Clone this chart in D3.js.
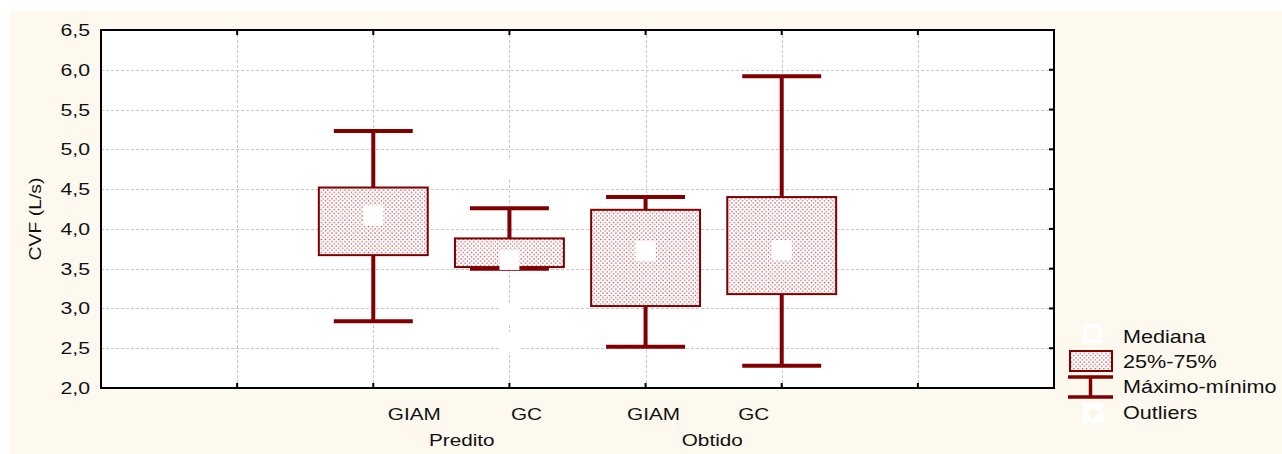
<!DOCTYPE html>
<html>
<head>
<meta charset="utf-8">
<script src="https://cdn.jsdelivr.net/npm/d3@7/dist/d3.min.js"></script>
<style>
  html, body { margin: 0; padding: 0; background: #ffffff; }
  svg { display: block; }
  text { font-family: "Liberation Sans", Arial, sans-serif; fill: #111; }
</style>
</head>
<body>
<svg id="chart" width="1282" height="454"></svg>
<script>
// ---------- data ----------
const groups     = ["Predito", "Predito", "Obtido", "Obtido"];
const categories = ["GIAM", "GC", "GIAM", "GC"];
const medians    = [4.17, 3.61, 3.72, 3.73];
const q1         = [3.67, 3.52, 3.03, 3.18];
const q3         = [4.52, 3.88, 4.24, 4.40];
const mins       = [2.84, 3.50, 2.52, 2.28];
const maxs       = [5.23, 4.26, 4.40, 5.92];
const outliers   = [[], [4.76, 2.94, 2.58], [], []];
const yTicks     = [2.0, 2.5, 3.0, 3.5, 4.0, 4.5, 5.0, 5.5, 6.0, 6.5];
const groupNames = ["Predito", "Obtido"];
const legendLabels = ["Mediana", "25%-75%", "Máximo-mínimo", "Outliers"];
const yTitle = "CVF (L/s)";

// ---------- layout ----------
const W = 1282, H = 454;
const plot = { left: 101, right: 1054, top: 30, bottom: 388 };
const dark = "#800000";
const cream = "#fdf9ef";

const svg = d3.select("#chart");
const defs = svg.append("defs");
const pat = defs.append("pattern")
  .attr("id", "dots").attr("patternUnits", "userSpaceOnUse")
  .attr("width", 4.3).attr("height", 4.3);
pat.append("rect").attr("width", 4.3).attr("height", 4.3).attr("fill", "#ffffff");
pat.append("rect").attr("x", 0.3).attr("y", 0.3).attr("width", 1.2).attr("height", 1.2).attr("fill", "#b03a44");
pat.append("rect").attr("x", 2.45).attr("y", 2.45).attr("width", 1.2).attr("height", 1.2).attr("fill", "#b03a44");

// background
svg.append("rect").attr("x", 10).attr("y", 11).attr("width", W - 10).attr("height", H - 11).attr("fill", cream);

const x = d3.scaleLinear().domain([0, 7]).range([plot.left, plot.right]);
const y = d3.scaleLinear().domain([2.0, 6.5]).range([plot.bottom, plot.top]);
const pos = i => x(i + 2);
const slot = x(1) - x(0);
const boxW = slot * 0.8;
const capW = slot * 0.58;

// plot area
svg.append("rect").attr("x", plot.left).attr("y", plot.top)
  .attr("width", plot.right - plot.left).attr("height", plot.bottom - plot.top)
  .attr("fill", "#ffffff");

// grid
const grid = svg.append("g").attr("stroke", "#c8c8c8").attr("stroke-width", 1).attr("stroke-dasharray", "3,2");
yTicks.slice(1, -1).forEach(v => {
  grid.append("line").attr("x1", plot.left).attr("x2", plot.right)
    .attr("y1", Math.round(y(v)) + 0.5).attr("y2", Math.round(y(v)) + 0.5);
});
d3.range(1, 7).forEach(v => {
  grid.append("line").attr("y1", plot.top).attr("y2", plot.bottom)
    .attr("x1", Math.round(x(v)) + 0.5).attr("x2", Math.round(x(v)) + 0.5);
});

// outliers (white markers)
outliers.forEach((arr, i) => {
  arr.forEach(v => {
    svg.append("rect").attr("x", pos(i) - 10).attr("y", y(v) - 10)
      .attr("width", 20).attr("height", 20).attr("fill", "#ffffff");
  });
});

// boxes
const boxes = svg.append("g");
categories.forEach((c, i) => {
  const cx = pos(i);
  // whiskers
  boxes.append("line").attr("x1", cx).attr("x2", cx).attr("y1", y(maxs[i])).attr("y2", y(q3[i]))
    .attr("stroke", dark).attr("stroke-width", 4);
  boxes.append("line").attr("x1", cx).attr("x2", cx).attr("y1", y(q1[i])).attr("y2", y(mins[i]))
    .attr("stroke", dark).attr("stroke-width", 4);
  // box
  boxes.append("rect").attr("x", cx - boxW / 2).attr("y", y(q3[i]))
    .attr("width", boxW).attr("height", y(q1[i]) - y(q3[i]))
    .attr("fill", "url(#dots)").attr("stroke", dark).attr("stroke-width", 2);
  // caps
  [maxs[i], mins[i]].forEach(v => {
    boxes.append("line").attr("x1", cx - capW / 2).attr("x2", cx + capW / 2)
      .attr("y1", y(v)).attr("y2", y(v)).attr("stroke", dark).attr("stroke-width", 4);
  });
});
// medians
categories.forEach((c, i) => {
  svg.append("rect").attr("x", pos(i) - 10).attr("y", y(medians[i]) - 10)
    .attr("width", 20).attr("height", 20).attr("fill", "#ffffff");
});

// frame
svg.append("rect").attr("x", plot.left).attr("y", plot.top)
  .attr("width", plot.right - plot.left).attr("height", plot.bottom - plot.top)
  .attr("fill", "none").attr("stroke", "#000").attr("stroke-width", 2);
const ticks = svg.append("g").attr("stroke", "#000").attr("stroke-width", 2);
yTicks.slice(1, -1).forEach(v => {
  ticks.append("line").attr("x1", plot.right - 5).attr("x2", plot.right).attr("y1", y(v)).attr("y2", y(v));
});
d3.range(1, 7).forEach(v => {
  ticks.append("line").attr("x1", x(v)).attr("x2", x(v)).attr("y1", plot.bottom).attr("y2", plot.bottom - 5);
  ticks.append("line").attr("x1", x(v)).attr("x2", x(v)).attr("y1", plot.top).attr("y2", plot.top + 5);
});

// stretched text helper
function txt(xp, yp, s, opts = {}) {
  const size = opts.size || 17, sx = opts.sx || 1.22;
  return svg.append("text")
    .attr("transform", `translate(${xp},${yp}) scale(${sx},1)` + (opts.rot ? ` rotate(${opts.rot})` : ""))
    .attr("text-anchor", opts.anchor || "start")
    .style("font-size", size + "px")
    .text(s);
}

const fmt = v => d3.format(".1f")(v).replace(".", ",");
yTicks.forEach(v => txt(90, y(v) + 6, fmt(v), { anchor: "end", sx: 1.25 }));

// category labels
const labelShift = [41, 17, 8, -28];
categories.forEach((c, i) => txt(pos(i) + labelShift[i], 420, c, { anchor: "middle" }));
// group labels
const groupAt = [2.65, 4.49];
groupNames.forEach((g, k) => txt(x(groupAt[k]), 446, g, { anchor: "middle" }));

// y title
svg.append("text")
  .attr("transform", `translate(41,${(plot.top + plot.bottom) / 2 + 10}) rotate(-90) scale(1.14,1)`)
  .attr("text-anchor", "middle")
  .style("font-size", "17px")
  .text(yTitle);

// legend
const lg = svg.append("g");
// median symbol
lg.append("rect").attr("x", 1085).attr("y", 326).attr("width", 15).attr("height", 15)
  .attr("fill", "none").attr("stroke", "#ffffff").attr("stroke-width", 4);
// box symbol
lg.append("rect").attr("x", 1070).attr("y", 351).attr("width", 42).attr("height", 20)
  .attr("fill", "url(#dots)").attr("stroke", dark).attr("stroke-width", 2);
// whisker symbol
lg.append("line").attr("x1", 1068).attr("x2", 1113).attr("y1", 377).attr("y2", 377).attr("stroke", dark).attr("stroke-width", 3.5);
lg.append("line").attr("x1", 1068).attr("x2", 1113).attr("y1", 397).attr("y2", 397).attr("stroke", dark).attr("stroke-width", 3.5);
lg.append("line").attr("x1", 1090.5).attr("x2", 1090.5).attr("y1", 377).attr("y2", 397).attr("stroke", dark).attr("stroke-width", 3.5);
// outlier symbol
lg.append("rect").attr("x", 1083).attr("y", 403).attr("width", 20).attr("height", 20).attr("fill", "#ffffff");
lg.append("path").attr("d", "M1093,407 L1099,413 L1093,419 L1087,413 Z").attr("fill", "#fbf6ea");

const legendBase = [342.5, 367.5, 393, 419];
legendLabels.forEach((s, i) => txt(1123, legendBase[i], s, { size: 18, sx: 1.2 }));
</script>
</body>
</html>
